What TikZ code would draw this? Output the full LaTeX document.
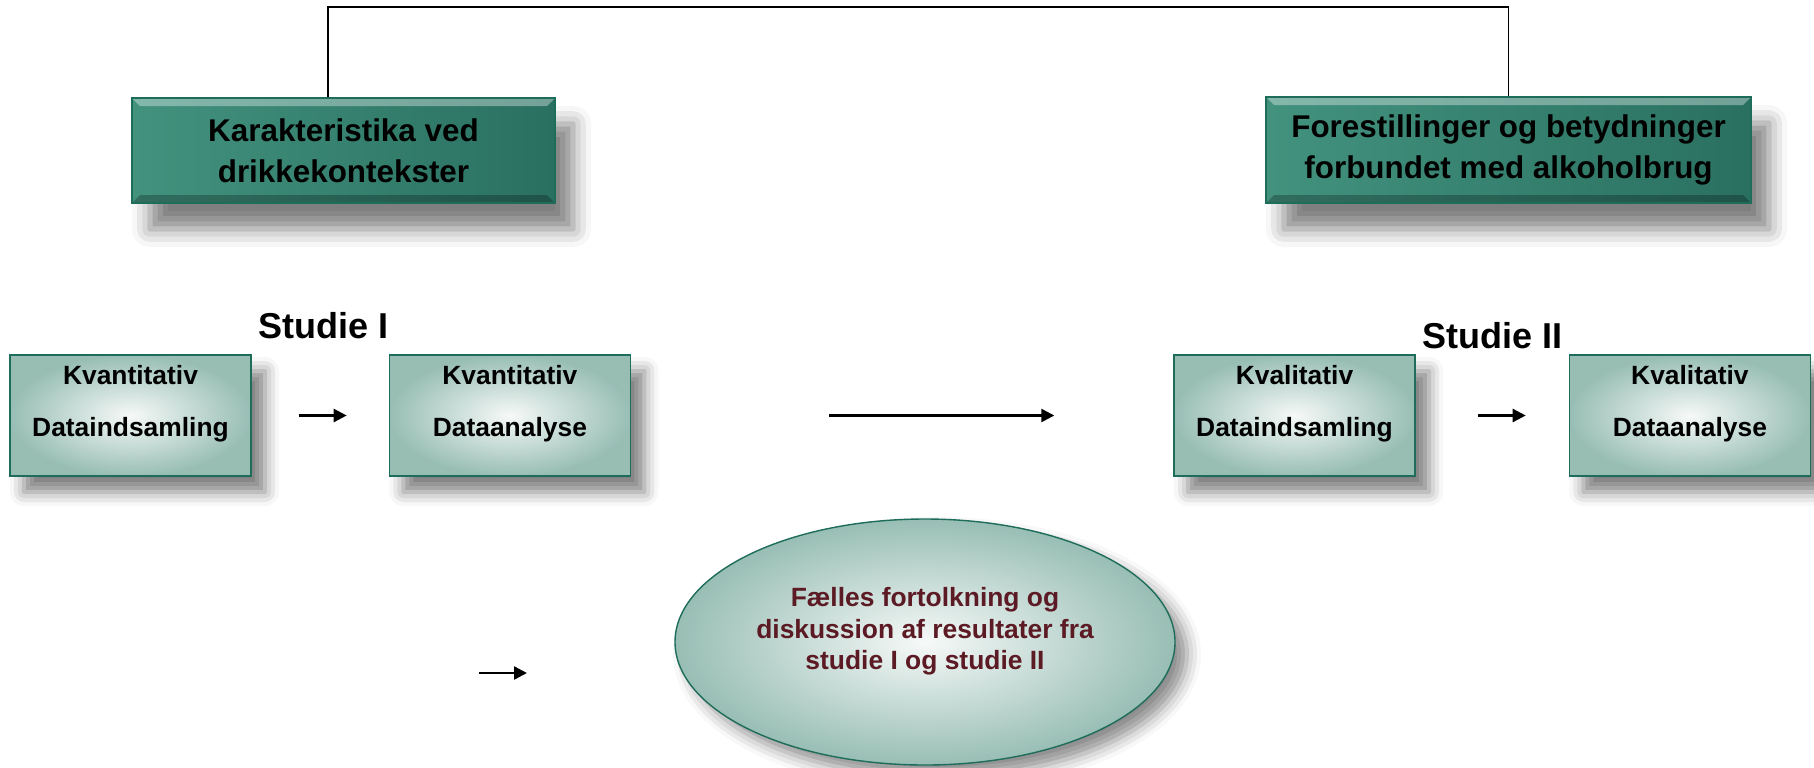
\documentclass[tikz,border=0pt]{standalone}
\usepackage{fontspec}
\setmainfont{Liberation Sans}
\usepackage{tikz}
\usetikzlibrary{positioning, arrows.meta, shapes.geometric, shadows.blur}

\definecolor{tealedge}{RGB}{30,108,90}
\definecolor{tealdeep}{RGB}{42,112,96}
\definecolor{tealmid}{RGB}{66,146,126}
\definecolor{teallight}{RGB}{162,200,189}
\definecolor{mistedge}{RGB}{152,190,180}
\definecolor{mistcore}{RGB}{246,249,248}
\definecolor{wine}{RGB}{92,26,36}

\tikzset{
  topbox/.style={rectangle, draw=tealedge, line width=0.6pt, left color=tealmid, middle color=teallight, right color=tealdeep,
    font=\bfseries\fontsize{15.7pt}{20.5pt}\selectfont, align=center,
    blur shadow={shadow xshift=9pt, shadow yshift=-13pt, shadow blur radius=9pt, shadow opacity=50},
    path picture={
      \fill[white, opacity=.35] (path picture bounding box.north west) -- (path picture bounding box.north east)
        -- ([shift={(-4pt,-4pt)}]path picture bounding box.north east) -- ([shift={(4pt,-4pt)}]path picture bounding box.north west) -- cycle;
      \fill[black, opacity=.25] (path picture bounding box.south west) -- (path picture bounding box.south east)
        -- ([shift={(-4pt,4pt)}]path picture bounding box.south east) -- ([shift={(4pt,4pt)}]path picture bounding box.south west) -- cycle;
    }},
  phasebox/.style={rectangle, draw=tealedge, line width=0.7pt, inner color=mistcore, outer color=mistedge,
    minimum width=120.5pt, minimum height=60.5pt, align=center, text height=36pt, text depth=14.6pt,
    font=\bfseries\fontsize{13.2pt}{26pt}\selectfont,
    blur shadow={shadow xshift=7pt, shadow yshift=-8pt, shadow blur radius=7pt, shadow opacity=50}},
  resultoval/.style={ellipse, draw=tealedge, line width=0.7pt, inner color=mistcore, outer color=mistedge,
    minimum width=250pt, minimum height=123pt, inner sep=0pt, align=center, text=wine,
    text height=41pt, text depth=13.1pt, font=\bfseries\fontsize{13.2pt}{15.75pt}\selectfont,
    blur shadow={shadow xshift=6pt, shadow yshift=-6pt, shadow blur radius=7pt, shadow opacity=45}},
  studylabel/.style={font=\bfseries\fontsize{18pt}{22pt}\selectfont, inner sep=0pt},
  flowarrow/.style={line width=1.2pt, -{Triangle[length=6.5pt, width=6.5pt]}},
  bridgeline/.style={line width=0.75pt}
}

\begin{document}
\begin{tikzpicture}[x=0.5pt, y=-0.5pt]
  \useasboundingbox (0,0) rectangle (1814,767);

  % Top level
  \node[topbox, minimum width=211.5pt, minimum height=52.5pt] (drink) at (343.5,150.5) {Karakteristika ved\\drikkekontekster};
  \node[topbox, minimum width=242.5pt, minimum height=53pt] (ideas) at (1508.5,150) {Forestillinger og betydninger\\forbundet med alkoholbrug};

  % Studie I
  \node[phasebox] (quantcol) at (130.5,415.5) {Kvantitativ\\Dataindsamling};
  \node[phasebox, right=68.5pt of quantcol] (quantana) {Kvantitativ\\Dataanalyse};
  \node[studylabel, anchor=base] (studyone) at (323.5,338) {Studie I};

  % Studie II
  \node[phasebox] (qualcol) at (1294.5,415.5) {Kvalitativ\\Dataindsamling};
  \node[phasebox, right=76.5pt of qualcol] (qualana) {Kvalitativ\\Dataanalyse};
  \node[studylabel, anchor=base] (studytwo) at (1492.5,348) {Studie II};

  % Joint interpretation
  \node[resultoval] (joint) at (925,642) {Fælles fortolkning og\\diskussion af resultater fra\\studie I og studie II};

  % Connectors
  \coordinate (bridgeL) at (328,7);
  \draw[bridgeline] (drink.north -| bridgeL) -- (bridgeL) -| (ideas.north);
  \draw[flowarrow, shorten <=23.5pt, shorten >=21pt] (quantcol) -- (quantana);
  \draw[flowarrow, shorten <=99pt, shorten >=59.5pt] (quantana) -- (qualcol);
  \draw[flowarrow, shorten <=31pt, shorten >=21.5pt] (qualcol) -- (qualana);
  \coordinate (loosestart) at (479,673);
  \coordinate (looseend) at (527,673);
  \draw[flowarrow] (loosestart) -- (looseend);
\end{tikzpicture}
\end{document}
